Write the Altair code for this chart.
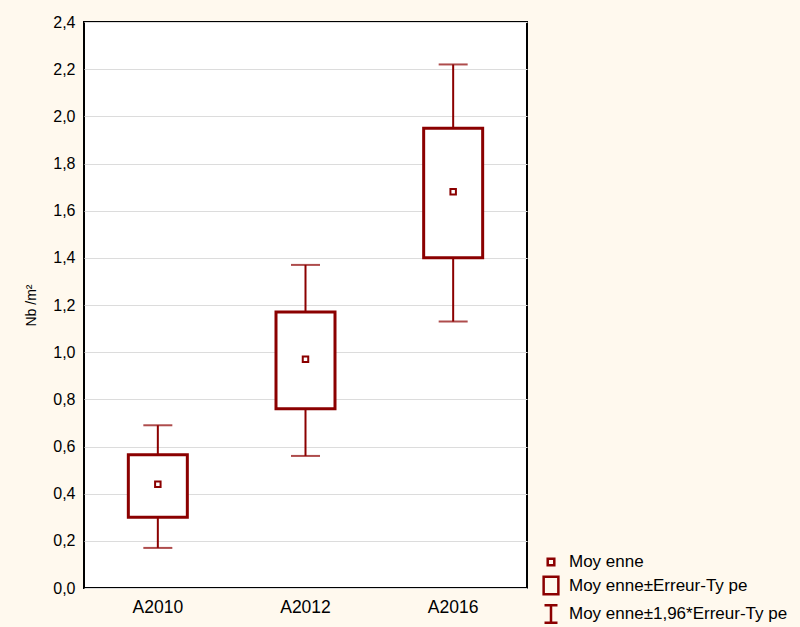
import altair as alt
import pandas as pd

categories = ["A2010", "A2012", "A2016"]
means = [0.44, 0.97, 1.68]
se_low = [0.30, 0.76, 1.40]
se_high = [0.565, 1.17, 1.95]
ci_low = [0.17, 0.56, 1.13]
ci_high = [0.69, 1.37, 2.22]

y_ticks = [0.0, 0.2, 0.4, 0.6, 0.8, 1.0, 1.2, 1.4, 1.6, 1.8, 2.0, 2.2, 2.4]
legend_labels = ["Moy enne", "Moy enne±Erreur-Ty pe", "Moy enne±1,96*Erreur-Ty pe"]
legend_shapes = [
    "M-0.38,-0.38H0.38V0.38H-0.38Z",
    "M-0.85,-1H0.85V1H-0.85Z",
    "M-0.75,-1H0.75M0,-1V1M-0.75,1H0.75",
]

RED = "#8B0000"
FONT = "Liberation Sans"

df = pd.DataFrame({
    "cat": categories, "mean": means, "se_low": se_low, "se_high": se_high,
    "ci_low": ci_low, "ci_high": ci_high,
})
leg = pd.DataFrame({"cat": ["A2010"] * 3, "v": [-1.0] * 3, "lab": legend_labels})

x = alt.X("cat:N", title=None, sort=categories,
          scale=alt.Scale(paddingInner=0, paddingOuter=0),
          axis=alt.Axis(labelAngle=0, labelFontSize=17.5, labelColor="#000000",
                        labelFont=FONT, labelPadding=10,
                        ticks=False, domain=False, grid=False))
yscale = alt.Scale(domain=[0, 2.4], nice=False, zero=False)
yaxis = alt.Axis(values=y_ticks, labelExpr="replace(format(datum.value, '.1f'), '.', ',')",
                 labelFontSize=16, labelColor="#000000", labelFont=FONT,
                 labelPadding=9, ticks=False, domain=False, grid=True,
                 gridColor="#DCDCDC", gridWidth=1.2,
                 title="Nb /m²", titleFontSize=14, titleFont=FONT,
                 titleFontWeight="normal", titleColor="#000000",
                 titleAngle=270, titleX=-53, titleY=283,
                 titleAlign="center", titleBaseline="middle")

base = alt.Chart(df)

whisk = base.mark_rule(color=RED, strokeWidth=2).encode(
    x=x, y=alt.Y("ci_low:Q", scale=yscale, axis=yaxis), y2="ci_high:Q")
cap_lo = base.mark_tick(color=RED, size=29, thickness=2).encode(
    x=x, y=alt.Y("ci_low:Q", scale=yscale))
cap_hi = base.mark_tick(color=RED, size=29, thickness=2).encode(
    x=x, y=alt.Y("ci_high:Q", scale=yscale))
box = base.mark_bar(width=59, fill="white", stroke=RED, strokeWidth=3).encode(
    x=x, y=alt.Y("se_low:Q", scale=yscale), y2="se_high:Q")
mean_pt = base.mark_point(shape="square", size=30, filled=False, fill="white",
                          color=RED, strokeWidth=2, opacity=1).encode(
    x=x, y=alt.Y("mean:Q", scale=yscale))

legend_layer = alt.Chart(leg).mark_point(filled=False, size=300, strokeWidth=2.5,
                                         color=RED, clip=True).encode(
    x=x, y=alt.Y("v:Q", scale=yscale),
    shape=alt.Shape("lab:N", sort=legend_labels,
                    scale=alt.Scale(domain=legend_labels, range=legend_shapes),
                    legend=alt.Legend(title=None, orient="none", legendX=457, legendY=530,
                                      labelFontSize=17, labelFont=FONT,
                                      labelColor="#000000", labelOffset=8,
                                      symbolSize=300, symbolStrokeWidth=2.5,
                                      symbolStrokeColor=RED, symbolFillColor="transparent",
                                      symbolOpacity=1, rowPadding=0.5, padding=0,
                                      labelLimit=400)),
)

chart = alt.layer(whisk, cap_lo, cap_hi, box, mean_pt, legend_layer).properties(
    width=443, height=566,
    autosize=alt.AutoSizeParams(type="none"),
    padding={"left": 84, "top": 22, "right": 273, "bottom": 39},
    background="#FFF9EE",
).configure_view(
    fill="white", stroke="#000000", strokeWidth=2,
)

chart.save("out.html", embed_options={"renderer": "svg", "actions": False})
